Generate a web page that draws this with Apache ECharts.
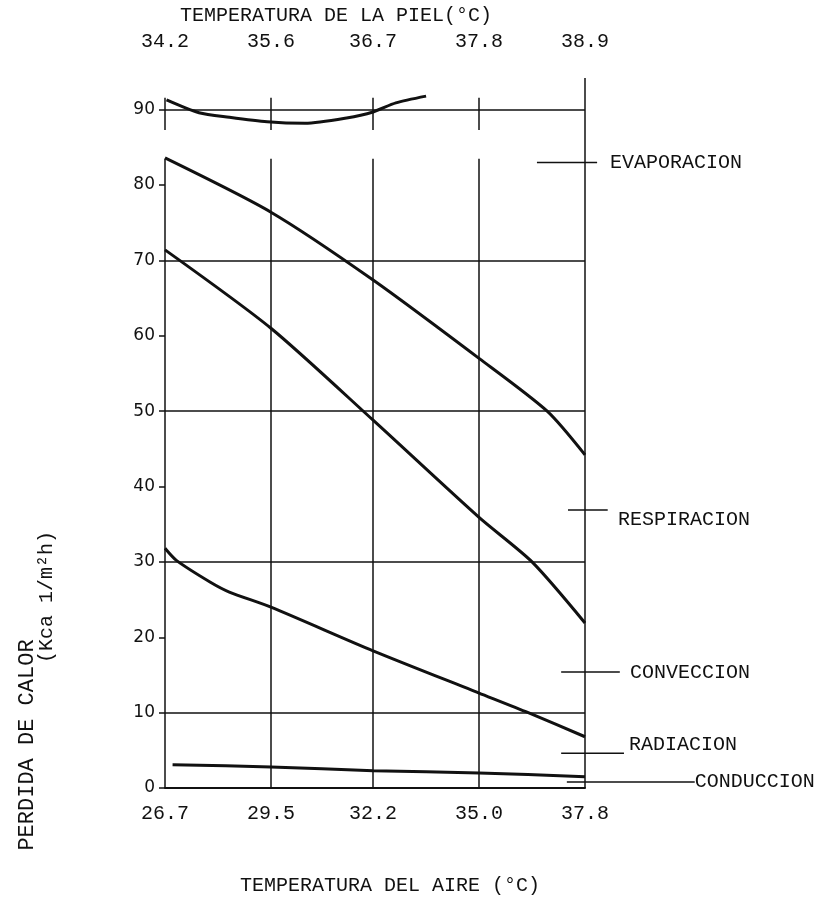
<!DOCTYPE html>
<html>
<head>
<meta charset="utf-8">
<script src="https://cdn.jsdelivr.net/npm/echarts@6/dist/echarts.min.js"></script>
<style>
html, body { margin: 0; padding: 0; background: #fff; }
#chart { width: 823px; height: 914px; }
</style>
</head>
<body>
<div id="chart"></div>
<script>
// eje inferior: temperatura del aire, eje superior: temperatura de la piel
var airTemps = [26.7, 29.5, 32.2, 35.0, 37.8];
var skinTemps = ['34.2', '35.6', '36.7', '37.8', '38.9'];
var gridLevels = [10, 30, 50, 70, 90];

// curvas [temp. aire, perdida de calor]
var evaporacion = [[26.7, 83.6], [29.5, 76.4], [32.2, 67.4], [35.0, 57.0], [36.8, 50.0], [37.8, 44.2]];
var respiracion = [[26.7, 71.4], [29.5, 61.0], [32.2, 48.8], [35.0, 35.9], [36.4, 30.0], [37.8, 21.9]];
var conveccion = [[26.7, 31.8], [27.0, 30.2], [27.9, 27.3], [28.4, 26.0], [29.5, 24.0], [32.2, 18.2], [35.0, 12.6], [36.3, 10.0], [37.8, 6.8]];
var conduccion = [[26.9, 3.1], [29.5, 2.8], [32.2, 2.3], [35.0, 2.0], [37.8, 1.5]];
var total = [[26.74, 91.3], [27.6, 89.6], [28.4, 89.0], [29.4, 88.4], [30.4, 88.2], [31.5, 88.9], [32.2, 89.7], [32.8, 90.9], [33.6, 91.8]];

// rotulos de la derecha
var rotulos = ['EVAPORACION', 'RESPIRACION', 'CONVECCION', 'RADIACION', 'CONDUCCION'];

var ink = '#111';
var mono = '"Liberation Mono", "Courier New", monospace';

var chart = echarts.init(document.getElementById('chart'));

// lineas de la cuadricula (con el corte entre 83 y 87)
var gridLines = [];
airTemps.forEach(function (t, i) {
	if (i === airTemps.length - 1) {
		gridLines.push([{ coord: [t, 0] }, { coord: [t, 94.2] }]);
	} else {
		gridLines.push([{ coord: [t, 0] }, { coord: [t, 83.5] }]);
		gridLines.push([{ coord: [t, 87.3] }, { coord: [t, 91.6] }]);
	}
});
gridLevels.forEach(function (v) {
	gridLines.push([{ coord: [airTemps[0], v] }, { coord: [airTemps[airTemps.length - 1], v] }]);
});

function curve(name, data) {
	return {
		name: name,
		type: 'line',
		data: data,
		smooth: 0.25,
		symbol: 'none',
		lineStyle: { color: ink, width: 3 },
		z: 3
	};
}

var series = [
	curve('total', total),
	curve('evaporacion', evaporacion),
	curve('respiracion', respiracion),
	curve('conveccion', conveccion),
	curve('conduccion', conduccion)
];
series[0].markLine = {
	silent: true,
	symbol: ['none', 'none'],
	label: { show: false },
	lineStyle: { color: ink, width: 1.5, type: 'solid' },
	data: gridLines
};

var option = {
	animation: false,
	backgroundColor: '#fff',
	grid: { left: 165, right: 238, top: 72, bottom: 126 },
	xAxis: [{
		type: 'value',
		min: 26.7,
		max: 37.8,
		position: 'bottom',
		axisLine: { show: true, lineStyle: { color: ink, width: 2 } },
		axisTick: { show: false },
		splitLine: { show: false },
		axisLabel: {
			customValues: airTemps,
			formatter: function (v) { return v.toFixed(1); },
			color: ink,
			fontFamily: mono,
			fontSize: 20,
			margin: 16
		}
	}, {
		type: 'value',
		min: 26.7,
		max: 37.8,
		position: 'top',
		axisLine: { show: false },
		axisTick: { show: false },
		splitLine: { show: false },
		axisLabel: {
			customValues: airTemps,
			formatter: function (v) {
				for (var i = 0; i < airTemps.length; i++) {
					if (Math.abs(airTemps[i] - v) < 0.01) return skinTemps[i];
				}
				return '';
			},
			color: ink,
			fontFamily: mono,
			fontSize: 20,
			margin: 20
		}
	}],
	yAxis: {
		type: 'value',
		min: 0,
		max: 95,
		interval: 10,
		axisLine: { show: false },
		axisTick: { show: true, length: 6, lineStyle: { color: ink, width: 1.5 } },
		splitLine: { show: false },
		axisLabel: {
			showMaxLabel: false,
			formatter: function (v) { return v > 90 ? '' : String(v); },
			color: ink,
			fontFamily: '"DejaVu Sans", sans-serif',
			fontSize: 17,
			margin: 10
		}
	},
	series: series
};
chart.setOption(option);

function px(p) { return chart.convertToPixel({ seriesIndex: 0 }, p); }

// posiciones de los rotulos [x1, x2, y de la raya, x texto, y texto]
var rotuloPos = [
	[36.53, 38.12, 83.0, 38.46, 83.0],
	[37.35, 38.40, 36.9, 38.67, 35.6],
	[37.17, 38.72, 15.4, 38.99, 15.3],
	[37.17, 38.83, 4.6, 38.96, 5.7],
	[37.32, 40.70, 0.8, 40.70, 0.8]
];

var graphics = [];
rotulos.forEach(function (name, i) {
	var r = rotuloPos[i];
	var a = px([r[0], r[2]]);
	var b = px([r[1], r[2]]);
	var t = px([r[3], r[4]]);
	graphics.push({
		type: 'line',
		silent: true,
		shape: { x1: a[0], y1: a[1], x2: b[0], y2: b[1] },
		style: { stroke: ink, lineWidth: 1.5 }
	});
	graphics.push({
		type: 'text',
		x: t[0],
		y: t[1],
		style: { text: name, fill: ink, font: '20px ' + mono, align: 'left', verticalAlign: 'middle' }
	});
});

graphics.push({
	type: 'text', x: 336, y: 16,
	style: { text: 'TEMPERATURA DE LA PIEL(°C)', fill: ink, font: '20px ' + mono, align: 'center', verticalAlign: 'middle' }
});
graphics.push({
	type: 'text', x: 390, y: 886,
	style: { text: 'TEMPERATURA DEL AIRE (°C)', fill: ink, font: '20px ' + mono, align: 'center', verticalAlign: 'middle' }
});
graphics.push({
	type: 'text', x: 27, y: 745, rotation: Math.PI / 2,
	style: { text: 'PERDIDA DE CALOR', fill: ink, font: '22px ' + mono, align: 'center', verticalAlign: 'middle' }
});
graphics.push({
	type: 'text', x: 47, y: 597, rotation: Math.PI / 2,
	style: { text: '(Kca 1/m²h)', fill: ink, font: '20px ' + mono, align: 'center', verticalAlign: 'middle' }
});

chart.setOption({ graphic: graphics });
</script>
</body>
</html>
